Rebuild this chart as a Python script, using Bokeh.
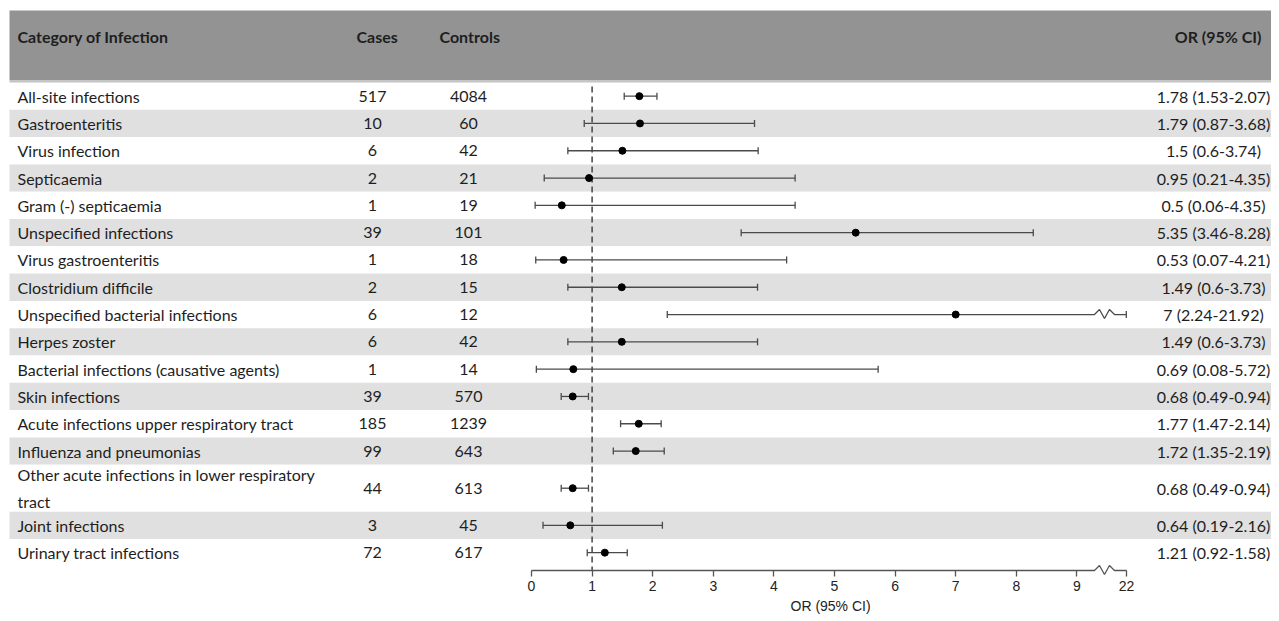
from bokeh.plotting import figure
from bokeh.models import Range1d, FixedTicker, ColumnDataSource, Title
from bokeh.core.properties import value
from bokeh.embed import file_html
from bokeh.resources import INLINE

# ---------------- data ----------------
categories = [
    "All-site infections",
    "Gastroenteritis",
    "Virus infection",
    "Septicaemia",
    "Gram (-) septicaemia",
    "Unspecified infections",
    "Virus gastroenteritis",
    "Clostridium difficile",
    "Unspecified bacterial infections",
    "Herpes zoster",
    "Bacterial infections (causative agents)",
    "Skin infections",
    "Acute infections upper respiratory tract",
    "Influenza and pneumonias",
    "Other acute infections in lower respiratory\ntract",
    "Joint infections",
    "Urinary tract infections",
]
cases = [517, 10, 6, 2, 1, 39, 1, 2, 6, 6, 1, 39, 185, 99, 44, 3, 72]
controls = [4084, 60, 42, 21, 19, 101, 18, 15, 12, 42, 14, 570, 1239, 643, 613, 45, 617]
odds_ratio = [1.78, 1.79, 1.5, 0.95, 0.5, 5.35, 0.53, 1.49, 7, 1.49, 0.69, 0.68, 1.77, 1.72, 0.68, 0.64, 1.21]
ci_low = [1.53, 0.87, 0.6, 0.21, 0.06, 3.46, 0.07, 0.6, 2.24, 0.6, 0.08, 0.49, 1.47, 1.35, 0.49, 0.19, 0.92]
ci_high = [2.07, 3.68, 3.74, 4.35, 4.35, 8.28, 4.21, 3.73, 21.92, 3.73, 5.72, 0.94, 2.14, 2.19, 0.94, 2.16, 1.58]
tick_values = [0, 1, 2, 3, 4, 5, 6, 7, 8, 9, 22]
header_labels = ["Category of Infection", "Cases", "Controls", "OR (95% CI)"]
axis_title = "OR (95% CI)"

# ---------------- axis break (9 -> 22 compressed) ----------------
BREAK_FROM = 9.0
BREAK_TOP = 22.0
BREAK_WIDTH = 0.82


def tx(v):
    if v <= BREAK_FROM:
        return float(v)
    return BREAK_FROM + (v - BREAK_FROM) * BREAK_WIDTH / (BREAK_TOP - BREAK_FROM)


def fmt(v):
    return format(v, "g")


or_text = [f"{fmt(o)} ({fmt(l)}-{fmt(h)})" for o, l, h in zip(odds_ratio, ci_low, ci_high)]

# ---------------- layout ----------------
W, H = 1271, 620
FRAME_H = 576
X0_PX = 531.0          # pixel where OR = 0 sits
PX_PER_UNIT = 60.6


def px(xp):
    """horizontal layout position (pixels) -> x data units"""
    return (xp - X0_PX) / PX_PER_UNIT


HEADER_TOP = 10.0
HEADER_H = 70.0
ROW_TOP = 82.0
ROW_H = 27.3
EXTRA_LINE = 19.7
AXIS_Y = 570.0
TITLE_LEFT_PX = 790

n_lines = [c.count("\n") + 1 for c in categories]
tops, bottoms = [], []
cur = ROW_TOP
for n in n_lines:
    h = ROW_H + EXTRA_LINE * (n - 1)
    tops.append(cur)
    bottoms.append(cur + h)
    cur += h
centers = [(t + b) / 2 for t, b in zip(tops, bottoms)]
band_color = ["#ffffff" if i % 2 == 0 else "#e0e0e0" for i in range(len(categories))]
header_y = 36.0

TEXT_FONT = value("Lato")
TEXT_SIZE = value("16px")
TEXT_COLOR = "#1e1e1e"
HEADER_COLOR = "#939393"
HEADER_LINE = "#c4c4c4"
LINE_COLOR = "#4a4a4a"

p = figure(width=W, height=H, x_range=Range1d(px(0), px(W)), y_range=Range1d(FRAME_H, 0),
           toolbar_location=None, output_backend="svg",
           x_axis_location="below", y_axis_location=None,
           min_border_left=0, min_border_right=0, min_border_top=0,
           min_border_bottom=H - FRAME_H)
p.grid.visible = False
p.outline_line_color = None
p.background_fill_color = "white"
p.border_fill_color = "white"

# backgrounds
band_left, band_right = px(9), px(W + 5)
bsrc = ColumnDataSource(dict(top=tops, bottom=bottoms, color=band_color))
p.quad(left=band_left, right=band_right, top="top", bottom="bottom", fill_color="color",
       line_color=None, source=bsrc)
p.quad(left=band_left, right=band_right, top=HEADER_TOP, bottom=HEADER_TOP + HEADER_H,
       fill_color=HEADER_COLOR, line_color=None)
p.segment(x0=band_left, x1=band_right, y0=HEADER_TOP + HEADER_H + 1, y1=HEADER_TOP + HEADER_H + 1,
          line_color=HEADER_LINE, line_width=2)

# table text
tsrc = ColumnDataSource(dict(cat=categories, cases=[str(c) for c in cases],
                             controls=[str(c) for c in controls], ort=or_text, y=centers))
p.text(x=px(17), y="y", text="cat", source=tsrc, text_font=TEXT_FONT, text_font_size=TEXT_SIZE,
       text_color=TEXT_COLOR, text_baseline="middle", text_align="left", text_line_height=1.4)
p.text(x=px(372), y="y", text="cases", source=tsrc, text_font=TEXT_FONT, text_font_size=TEXT_SIZE,
       text_color=TEXT_COLOR, text_baseline="middle", text_align="center")
p.text(x=px(468), y="y", text="controls", source=tsrc, text_font=TEXT_FONT,
       text_font_size=TEXT_SIZE, text_color=TEXT_COLOR, text_baseline="middle",
       text_align="center")
p.text(x=px(1213), y="y", text="ort", source=tsrc, text_font=TEXT_FONT, text_font_size=TEXT_SIZE,
       text_color=TEXT_COLOR, text_baseline="middle", text_align="center")

# header text
p.text(x=[px(17), px(356), px(439)], y=[header_y] * 3, text=header_labels[:3],
       text_font=TEXT_FONT, text_font_size=TEXT_SIZE, text_font_style="bold",
       text_color=TEXT_COLOR, text_baseline="middle", text_align="left")
p.text(x=[px(1261)], y=[header_y], text=[header_labels[3]], text_font=TEXT_FONT,
       text_font_size=TEXT_SIZE, text_font_style="bold", text_color=TEXT_COLOR,
       text_baseline="middle", text_align="right")

# reference line at OR = 1
p.segment(x0=1, x1=1, y0=tops[0] + 4, y1=AXIS_Y, line_color="#444444", line_width=1.5,
          line_dash="6 4")

ZIG_LO, ZIG_HI = 9.29, 9.62
zig_dx = [0.0, 0.25, 0.5, 0.75, 1.0]
zig_dy = [0, -5, 4, -5, 0]


def broken_path(lo, hi, y):
    xs, ys = [tx(lo)], [y]
    if hi > BREAK_FROM:
        for dx, dy in zip(zig_dx, zig_dy):
            xs.append(ZIG_LO + dx * (ZIG_HI - ZIG_LO))
            ys.append(y + dy)
    xs.append(tx(hi))
    ys.append(y)
    return xs, ys


paths = [broken_path(l, h, c) for l, h, c in zip(ci_low, ci_high, centers)]
p.multi_line(xs=[q[0] for q in paths], ys=[q[1] for q in paths], line_color=LINE_COLOR,
             line_width=1.3)
cap_x = [tx(v) for v in ci_low] + [tx(v) for v in ci_high]
cap_y = centers + centers
p.segment(x0=cap_x, x1=cap_x, y0=[c - 3.5 for c in cap_y], y1=[c + 3.5 for c in cap_y],
          line_color=LINE_COLOR, line_width=1.3)
p.scatter(x=[tx(v) for v in odds_ratio], y=centers, size=7, fill_color="black",
          line_color="black")

# axis line with break
ax_x, ax_y = broken_path(tick_values[0], tick_values[-1], AXIS_Y)
p.line(x=ax_x, y=ax_y, line_color="#555555", line_width=1.3)

tick_pos = [tx(v) for v in tick_values]
xa = p.xaxis[0]
xa.bounds = (tick_pos[0], tick_pos[-1])
xa.ticker = FixedTicker(ticks=tick_pos, minor_ticks=[])
xa.major_label_overrides = {tp: str(v) for tp, v in zip(tick_pos, tick_values)}
xa.axis_line_color = None
xa.major_tick_in = 6
xa.major_tick_out = 0
xa.major_tick_line_color = "#555555"
xa.major_tick_line_width = 1.3
xa.minor_tick_line_color = None
xa.major_label_standoff = 4
xa.major_label_text_font = "Liberation Sans"
xa.major_label_text_font_size = "14px"
xa.major_label_text_color = "#222222"

# axis title placed under the middle of the 0..22 span
p.add_layout(Title(text=axis_title, align="left", offset=TITLE_LEFT_PX,
                   text_font="Liberation Sans", text_font_size="14px",
                   text_font_style="normal", text_color="#222222", standoff=4), "below")

open("out.html", "w").write(file_html(p, INLINE))
